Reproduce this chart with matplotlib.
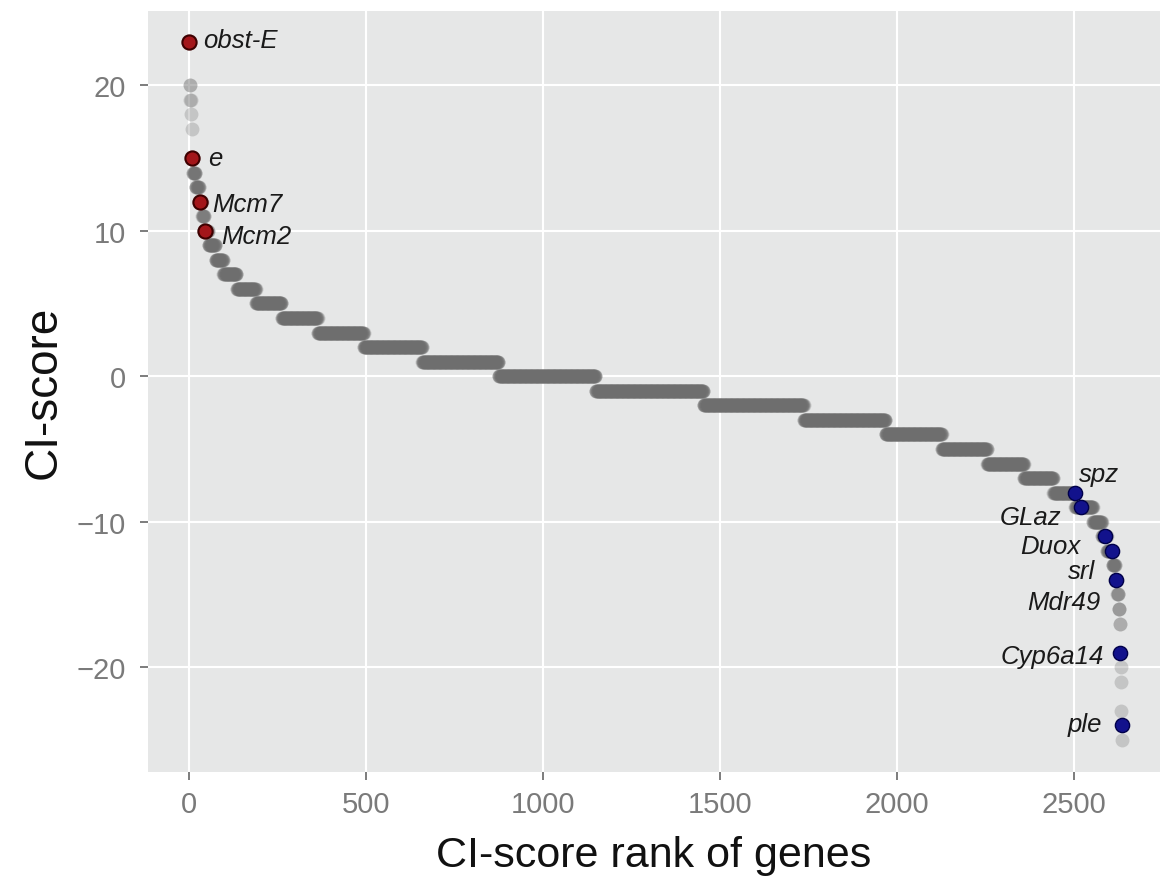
import numpy as np
import matplotlib
matplotlib.use("Agg")
import matplotlib.pyplot as plt

plt.rcParams['font.family'] = ['Liberation Sans', 'DejaVu Sans']

scores = [23, 20, 19, 18, 17, 15, 14, 13, 12, 11, 10, 9, 8, 7, 6, 5, 4, 3, 2, 1, 0,
          -1, -2, -3, -4, -5, -6, -7, -8, -9, -10, -11, -12, -13, -14, -15, -16, -17,
          -19, -20, -21, -23, -24, -25]
counts = [1, 2, 2, 1, 1, 3, 8, 10, 8, 6, 12, 20, 22, 38, 54, 73, 102, 130, 165, 216, 274,
          305, 283, 231, 159, 128, 104, 83, 62, 50, 25, 14, 16, 8, 5, 4, 3, 2,
          1, 1, 1, 1, 1, 1]

# highlighted genes
up_genes = ['obst-E', 'e', 'Mcm7', 'Mcm2']
up_scores = [23, 15, 12, 10]
up_ranks = [1, 9, 32, 46]

down_genes = ['spz', 'GLaz', 'Duox', 'srl', 'Mdr49', 'Cyp6a14', 'ple']
down_scores = [-8, -9, -11, -12, -14, -19, -24]
down_ranks = [2503, 2520, 2588, 2606, 2619, 2631, 2635]

# label offsets in points (dx, dy) and alignment
up_offsets = [(10, 1.5), (11.5, 0), (8.6, -1.4), (11.5, -3.6)]
down_offsets = [(17, 13.7), (-14.4, -7.2), (-18, -7.2), (-11.5, -14.4),
                (-11.5, -15.8), (-11.5, -2.2), (-14.4, 0.7)]
down_ha = ['center', 'right', 'right', 'right', 'right', 'right', 'right']

all_scores = np.repeat(scores, counts)
all_ranks = np.arange(1, len(all_scores) + 1)

fig = plt.figure(figsize=(11.69, 8.79), dpi=100)
ax = fig.add_axes([0.1266, 0.1206, 0.9923 - 0.1266, 0.9863 - 0.1206])
ax.set_facecolor('#E6E7E7')
for s in ax.spines.values():
    s.set_visible(False)
ax.grid(True, color='white', linewidth=1.5)
ax.set_axisbelow(True)

ax.scatter(all_ranks, all_scores, s=100, color='#6e6e6e', alpha=0.28,
           linewidths=0, zorder=2)

ax.scatter(up_ranks, up_scores, s=105, color='#a3161a', edgecolors='#3d0000',
           linewidths=1.5, zorder=3)
ax.scatter(down_ranks, down_scores, s=105, color='#12128c', edgecolors='#00004a',
           linewidths=1.0, zorder=3)

for g, r, sc, off in zip(up_genes, up_ranks, up_scores, up_offsets):
    ax.annotate(g, (r, sc), xytext=off, textcoords='offset points',
                ha='left', va='center', fontsize=18.5, style='italic', color='#1a1a1a')
for g, r, sc, off, ha in zip(down_genes, down_ranks, down_scores, down_offsets, down_ha):
    ax.annotate(g, (r, sc), xytext=off, textcoords='offset points',
                ha=ha, va='center', fontsize=18.5, style='italic', color='#1a1a1a')

ax.set_xlim(-116, 2743)
ax.set_ylim(-27.2, 25.1)
ax.set_xticks([0, 500, 1000, 1500, 2000, 2500])
ax.set_yticks([-20, -10, 0, 10, 20])
ax.set_yticklabels(['\u221220', '\u221210', '0', '10', '20'])
ax.tick_params(axis='both', length=6, width=1.2, color='#666666',
               labelcolor='#7a7a7a', labelsize=21)
ax.tick_params(axis='x', pad=7)
ax.tick_params(axis='y', pad=10)

ax.set_xlabel('CI-score rank of genes', fontsize=31, color='#111111', labelpad=12)
ax.set_ylabel('CI-score', fontsize=33, color='#111111', labelpad=8)

fig.savefig('out.png', dpi=100)
